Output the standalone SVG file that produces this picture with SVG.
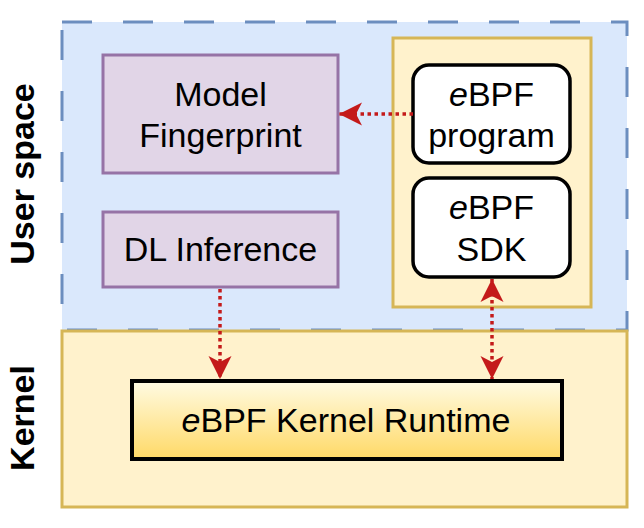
<svg xmlns="http://www.w3.org/2000/svg" width="644" height="528" viewBox="0 0 644 528">
<style>
text{font-family:"Liberation Sans",Arial,sans-serif;fill:#000}
.t{font-size:34px;text-anchor:middle}
.lbl{font-size:34px;font-weight:bold;text-anchor:middle}
.purple{fill:#e1d5e7;stroke:#9673a6;stroke-width:3}
.white{fill:#fff;stroke:#000;stroke-width:3.5}
.conn{stroke:#c41a1a;stroke-width:3.5;stroke-dasharray:3.5 3.5;fill:none}
</style>
<defs>
<linearGradient id="g" x1="0" y1="0" x2="0" y2="1">
<stop offset="0" stop-color="#fffbe3"/>
<stop offset="1" stop-color="#ffd966"/>
</linearGradient>
<marker id="ah" markerUnits="userSpaceOnUse" markerWidth="24" markerHeight="24" viewBox="0 0 24 24" refX="23" refY="12" orient="auto-start-reverse">
<path d="M0,0.5 L23,12 L0,23.5 L6,12 Z" fill="#c41a1a"/>
</marker>
</defs>
<g id="user-space">
<rect x="62" y="22" width="565" height="308" fill="#dae8fc" stroke="#6c8ebf" stroke-width="3" stroke-dasharray="30 31"/>
</g>
<g id="kernel">
<rect x="62" y="331" width="565" height="176" fill="#fff2cc" stroke="#d6b656" stroke-width="3"/>
</g>
<g id="ebpf-group">
<rect x="393" y="38" width="198" height="269" fill="#fff2cc" stroke="#d6b656" stroke-width="3"/>
</g>
<g id="model-fingerprint">
<rect class="purple" x="103" y="55" width="235" height="118"/>
<text class="t" x="220.5" y="106">Model</text>
<text class="t" x="220.5" y="147">Fingerprint</text>
</g>
<g id="dl-inference">
<rect class="purple" x="103" y="212" width="235" height="75"/>
<text class="t" x="220.5" y="261">DL Inference</text>
</g>
<g id="ebpf-program">
<rect class="white" x="413" y="65" width="157" height="98" rx="16"/>
<text class="t" x="491.5" y="106"><tspan font-style="italic">e</tspan>BPF</text>
<text class="t" x="491.5" y="147">program</text>
</g>
<g id="ebpf-sdk">
<rect class="white" x="413" y="178" width="157" height="99" rx="16"/>
<text class="t" x="491.5" y="219"><tspan font-style="italic">e</tspan>BPF</text>
<text class="t" x="491.5" y="261">SDK</text>
</g>
<g id="ebpf-kernel-runtime">
<rect x="132" y="381" width="430" height="78" fill="url(#g)" stroke="#000" stroke-width="4"/>
<text class="t" x="346" y="432"><tspan font-style="italic">e</tspan>BPF Kernel Runtime</text>
</g>
<g id="labels">
<text class="lbl" transform="translate(34,174) rotate(-90)">User space</text>
<text class="lbl" transform="translate(34,418) rotate(-90)">Kernel</text>
</g>
<g id="connectors">
<line class="conn" x1="413" y1="114" x2="339" y2="114" marker-end="url(#ah)"/>
<line class="conn" x1="220" y1="289" x2="220" y2="379" marker-end="url(#ah)"/>
<line class="conn" x1="492" y1="279" x2="492" y2="379" marker-start="url(#ah)" marker-end="url(#ah)"/>
</g>
</svg>
